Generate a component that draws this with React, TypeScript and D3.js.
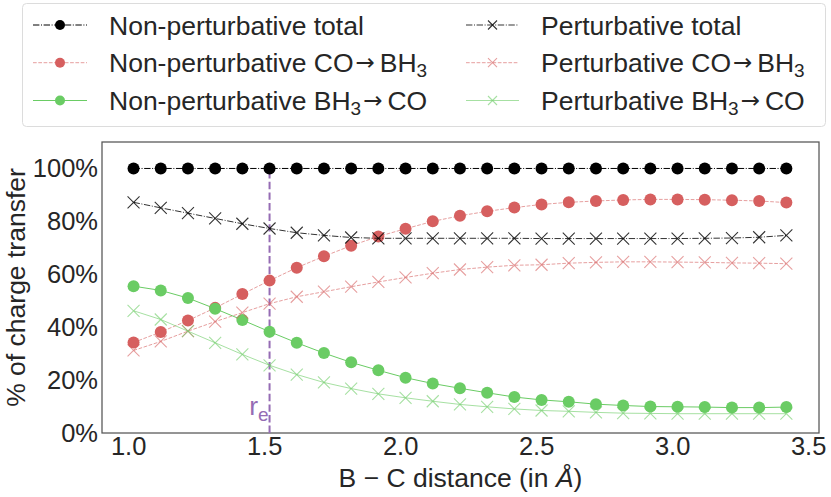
import { axisBottom, axisLeft, line, scaleLinear, select } from "d3";
import { useEffect, useRef } from "react";

// B-C distance in angstrom
const distances = [
  1.02, 1.12, 1.22, 1.32, 1.42, 1.52, 1.62, 1.72, 1.82, 1.92, 2.02, 2.12, 2.22,
  2.32, 2.42, 2.52, 2.62, 2.72, 2.82, 2.92, 3.02, 3.12, 3.22, 3.32, 3.42,
];

// % of charge transfer
const npTotal = [
  100, 100, 100, 100, 100, 100, 100, 100, 100, 100, 100, 100, 100, 100, 100,
  100, 100, 100, 100, 100, 100, 100, 100, 100, 100,
];
const npCoToBh3 = [
  34.2, 38.2, 42.5, 47.3, 52.5, 57.6, 62.5, 66.8, 70.8, 74.3, 77.2, 80.0, 82.1,
  83.8, 85.2, 86.4, 87.2, 87.7, 88.1, 88.3, 88.3, 88.2, 88.0, 87.7, 87.1,
];
const npBh3ToCo = [
  55.5, 53.9, 51.0, 47.0, 42.7, 38.3, 34.1, 30.2, 26.7, 23.7, 20.9, 18.7, 16.9,
  15.2, 13.6, 12.5, 11.8, 10.9, 10.4, 10.0, 9.9, 9.8, 9.6, 9.6, 9.8,
];
const pTotal = [
  87.2, 85.1, 83.1, 81.1, 79.1, 77.3, 75.7, 74.7, 73.9, 73.6, 73.6, 73.6, 73.6,
  73.6, 73.6, 73.5, 73.5, 73.5, 73.5, 73.5, 73.5, 73.6, 73.7, 74.0, 74.7,
];
const pCoToBh3 = [
  31.2, 34.6, 38.5, 42.1, 45.5, 48.9, 51.5, 53.4, 55.3, 57.1, 58.8, 60.4, 61.8,
  62.7, 63.4, 63.6, 64.2, 64.5, 64.7, 64.7, 64.6, 64.5, 64.3, 64.2, 64.0,
];
const pBh3ToCo = [
  46.2, 42.9, 38.5, 34.1, 29.7, 25.6, 22.1, 19.1, 16.8, 14.8, 13.3, 12.0, 10.8,
  9.9, 9.1, 8.5, 8.2, 7.8, 7.5, 7.4, 7.3, 7.3, 7.3, 7.3, 7.3,
];

const xTicks = [1.0, 1.5, 2.0, 2.5, 3.0, 3.5];
const yTicks = [0, 20, 40, 60, 80, 100];
const equilibrium = 1.52;

const BLACK = "#000000";
const RED = "#d65f5f";
const GREEN = "#6acc64";
const PURPLE = "#956cb4";
const DASHDOT = "6.4,1.6,1,1.6";
const DASHED = "3.7,1.6";
const FONT = "'Liberation Sans', Arial, Helvetica, sans-serif";
const TEXT = "#262626";

type Series = {
  label: string;
  values: number[];
  color: string;
  dash?: string;
  lineOpacity: number;
  marker: "circle" | "x";
  markerOpacity: number;
};

const series: Series[] = [
  { label: "Non-perturbative total", values: npTotal, color: BLACK, dash: DASHDOT, lineOpacity: 1, marker: "circle", markerOpacity: 1 },
  { label: "Non-perturbative CO→BH3", values: npCoToBh3, color: RED, dash: DASHED, lineOpacity: 0.6, marker: "circle", markerOpacity: 1 },
  { label: "Non-perturbative BH3→CO", values: npBh3ToCo, color: GREEN, lineOpacity: 1, marker: "circle", markerOpacity: 1 },
  { label: "Perturbative total", values: pTotal, color: BLACK, dash: DASHDOT, lineOpacity: 0.8, marker: "x", markerOpacity: 0.8 },
  { label: "Perturbative CO→BH3", values: pCoToBh3, color: RED, dash: DASHED, lineOpacity: 0.6, marker: "x", markerOpacity: 0.6 },
  { label: "Perturbative BH3→CO", values: pBh3ToCo, color: GREEN, lineOpacity: 0.6, marker: "x", markerOpacity: 0.6 },
];

function Label({ text, x, y }: { text: string; x: number; y: number }) {
  // split into plain text, "BH3" (subscript 3) and the arrow
  const tokens = text.split(/(BH3|→)/).filter((t) => t !== "");
  const out: any[] = [];
  let shift = 0;
  tokens.forEach((t, i) => {
    if (t === "BH3") {
      out.push(<tspan key={i + "a"} dy={-shift} dx={i > 0 && tokens[i - 1] === "→" ? 5 : 0}>BH</tspan>);
      out.push(<tspan key={i + "b"} fontSize={19} dy={4.5}>3</tspan>);
      shift = 4.5;
    } else if (t === "→") {
      out.push(
        <tspan key={i} fontFamily="'DejaVu Sans', sans-serif" fontSize={23} dy={-2 - shift} dx={2}>
          →
        </tspan>
      );
      shift = -2;
    } else {
      out.push(<tspan key={i} dy={-shift} dx={i > 0 && tokens[i - 1] === "→" ? 5 : 0}>{t}</tspan>);
      shift = 0;
    }
  });
  return (
    <text x={x} y={y} fontSize={26.5} fill={TEXT} fontFamily={FONT}>
      {out}
    </text>
  );
}

function Marker({ kind, x, y, size, color, opacity }: { kind: "circle" | "x"; x: number; y: number; size: number; color: string; opacity: number }) {
  if (kind === "circle") {
    return <circle cx={x} cy={y} r={size} fill={color} fillOpacity={opacity} />;
  }
  return (
    <path
      d={`M${x - size},${y - size}L${x + size},${y + size}M${x - size},${y + size}L${x + size},${y - size}`}
      stroke={color}
      strokeOpacity={opacity}
      strokeWidth={1.1}
      fill="none"
    />
  );
}

function XAxis({ scale, transform }: { scale: any; transform: string }) {
  const ref = useRef<SVGGElement>(null);
  useEffect(() => {
    if (ref.current) {
      const g = select(ref.current);
      g.call(axisBottom(scale).tickValues(xTicks).tickSize(0).tickPadding(4).tickFormat((d: any) => (+d).toFixed(1)));
      g.select(".domain").remove();
      g.selectAll("text").attr("font-size", 25.5).attr("font-family", FONT).attr("fill", TEXT);
    }
  }, [scale]);
  return <g ref={ref} transform={transform} />;
}

function YAxis({ scale, transform }: { scale: any; transform: string }) {
  const ref = useRef<SVGGElement>(null);
  useEffect(() => {
    if (ref.current) {
      const g = select(ref.current);
      g.call(axisLeft(scale).tickValues(yTicks).tickSize(0).tickPadding(4).tickFormat((d: any) => `${d}%`));
      g.select(".domain").remove();
      g.selectAll("text").attr("font-size", 25.5).attr("font-family", FONT).attr("fill", TEXT);
    }
  }, [scale]);
  return <g ref={ref} transform={transform} />;
}

export default function App() {
  const width = 831;
  const height = 497;
  const plot = { left: 102, top: 142, right: 819, bottom: 433 };

  const x = scaleLinear().domain([0.904, 3.54]).range([plot.left, plot.right]);
  const y = scaleLinear().domain([0, 110]).range([plot.bottom, plot.top]);

  const path = line<number>()
    .x((_, i) => x(distances[i]))
    .y((d) => y(d));

  const legendRows = [34.5, 72.2, 110];
  const legendCols = [
    { x1: 33, x2: 87, text: 109 },
    { x1: 466, x2: 519, text: 541 },
  ];

  return (
    <svg width={width} height={height} style={{ position: "absolute", left: 0, top: 0, background: "#fff" }}>
      {/* legend */}
      <rect x={22.5} y={3.5} width={803} height={123} rx={4} fill="#fff" stroke="#dcdcdc" strokeWidth={1} />
      {series.map((s, i) => {
        const col = legendCols[Math.floor(i / 3)];
        const ly = legendRows[i % 3];
        const cy = ly - 9.5;
        const mx = (col.x1 + col.x2) / 2;
        return (
          <g key={s.label}>
            <line x1={col.x1} x2={col.x2} y1={cy} y2={cy} stroke={s.color} strokeOpacity={s.lineOpacity} strokeWidth={1} strokeDasharray={s.dash} />
            <Marker kind={s.marker} x={mx} y={cy} size={s.marker === "circle" ? 5 : 4.5} color={s.color} opacity={s.markerOpacity} />
            <Label text={s.label} x={col.text} y={ly} />
          </g>
        );
      })}

      {/* frame */}
      <rect x={plot.left} y={plot.top} width={plot.right - plot.left} height={plot.bottom - plot.top} fill="none" stroke="#555" strokeWidth={1.25} />

      {/* equilibrium distance */}
      <line x1={x(equilibrium)} x2={x(equilibrium)} y1={y(0)} y2={y(100)} stroke={PURPLE} strokeWidth={2} strokeDasharray="7.4,3.2" />
      <text x={x(equilibrium) - 1} y={415} textAnchor="end" fill={PURPLE} fontSize={26.5} fontFamily={FONT}>
        r<tspan fontSize={19} dy={6}>e</tspan>
      </text>

      {series.map((s) => (
        <g key={s.label}>
          <path d={path(s.values) ?? ""} fill="none" stroke={s.color} strokeOpacity={s.lineOpacity} strokeWidth={1} strokeDasharray={s.dash} />
          {s.values.map((v, i) => (
            <Marker key={i} kind={s.marker} x={x(distances[i])} y={y(v)} size={6} color={s.color} opacity={s.markerOpacity} />
          ))}
        </g>
      ))}

      <XAxis scale={x} transform={`translate(0, ${plot.bottom})`} />
      <YAxis scale={y} transform={`translate(${plot.left}, 0)`} />

      <text x={(plot.left + plot.right) / 2} y={487} textAnchor="middle" fontSize={26.5} fill={TEXT} fontFamily={FONT}>
        B − C distance (in <tspan fontStyle="italic">Å</tspan>)
      </text>
      <text transform={`translate(25, ${(plot.top + plot.bottom) / 2}) rotate(-90)`} textAnchor="middle" fontSize={26.5} fill={TEXT} fontFamily={FONT}>
        % of charge transfer
      </text>
    </svg>
  );
}
